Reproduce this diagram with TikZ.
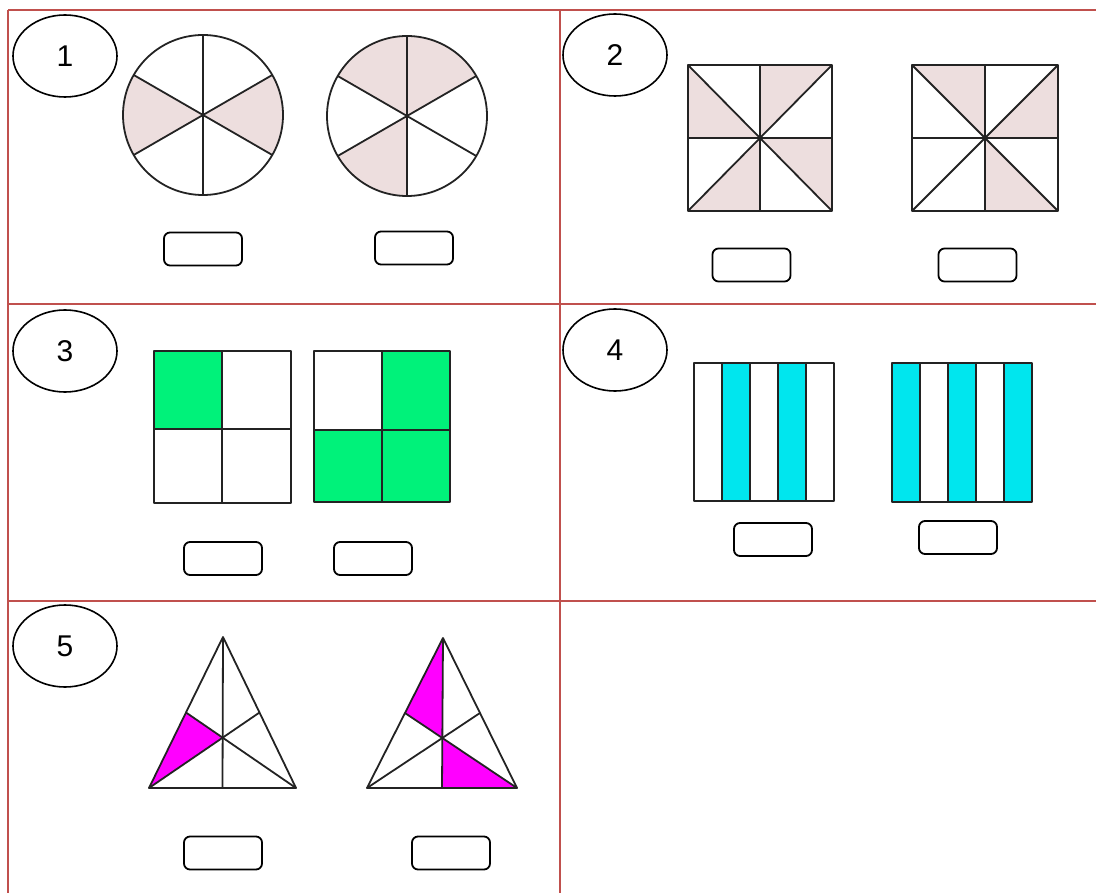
\documentclass[tikz,border=0pt]{standalone}
\usepackage{fontspec}
\setmainfont{Liberation Sans}
\usetikzlibrary{shapes.geometric}
\definecolor{tabred}{RGB}{192,80,77}
\definecolor{pinkshade}{RGB}{237,222,222}
\definecolor{greenfill}{RGB}{0,242,122}
\definecolor{cyanfill}{RGB}{0,230,238}
\definecolor{magfill}{RGB}{255,0,255}
\definecolor{inkline}{RGB}{35,35,35}
\tikzset{
  numoval/.style={draw=black, line width=1.6pt, ellipse, minimum width=104pt, minimum height=82pt, inner sep=0pt, font=\fontsize{30}{30}\selectfont},
  ansbox/.style={draw=black, line width=1.8pt, rounded corners=6pt, minimum width=78pt, minimum height=33pt, inner sep=0pt},
  tabline/.style={draw=tabred, line width=2.5pt},
  fig/.style={draw=inkline, line width=1.8pt, line join=round},
}
\begin{document}
\begin{tikzpicture}[x=1pt,y=-1pt]
\useasboundingbox (0,0) rectangle (1096,893);
% table
\draw[tabline] (8,10) -- (1096,10);
\draw[tabline] (8,304) -- (1096,304);
\draw[tabline] (8,601) -- (1096,601);
\draw[tabline] (8,10) -- (8,893);
\draw[tabline] (560,10) -- (560,893);

% number ovals
\node[numoval] (e1) at (65,56) {1};
\node[numoval] (e2) at (615,55) {2};
\node[numoval] (e3) at (65,351) {3};
\node[numoval] (e4) at (615,350) {4};
\node[numoval] (e5) at (65,646) {5};

% answer boxes
\node[ansbox] (b1a) at (203,249) {};
\node[ansbox] (b1b) at (414,248) {};
\node[ansbox] (b2a) at (751.5,265) {};
\node[ansbox] (b2b) at (977.5,265) {};
\node[ansbox] (b3a) at (223,558.5) {};
\node[ansbox] (b3b) at (373,558.5) {};
\node[ansbox] (b4a) at (773,539.5) {};
\node[ansbox] (b4b) at (958,537.5) {};
\node[ansbox] (b5a) at (223,853) {};
\node[ansbox] (b5b) at (451,853) {};

% cell 1 circles
\coordinate (c1) at (203,115);
\coordinate (c2) at (407,116);
\fill[pinkshade] (c1) -- ++(150:80pt) arc[start angle=150,end angle=210,radius=80pt] -- cycle;
\fill[pinkshade] (c1) -- ++(-30:80pt) arc[start angle=-30,end angle=30,radius=80pt] -- cycle;
\fill[pinkshade] (c2) -- ++(30:80pt) arc[start angle=30,end angle=150,radius=80pt] -- cycle;
\fill[pinkshade] (c2) -- ++(210:80pt) arc[start angle=210,end angle=270,radius=80pt] -- cycle;
\foreach \c in {c1,c2}{
  \draw[fig] (\c) circle[radius=80pt];
  \draw[fig] (\c) ++(90:80pt) -- ++(270:160pt);
  \draw[fig] (\c) ++(30:80pt) -- ++(210:160pt);
  \draw[fig] (\c) ++(150:80pt) -- ++(330:160pt);
}

% cell 2 squares
\fill[pinkshade] (688,65) -- (688,138) -- (760,138) -- cycle;
\fill[pinkshade] (760,65) -- (832,65) -- (760,138) -- cycle;
\fill[pinkshade] (688,211) -- (760,211) -- (760,138) -- cycle;
\fill[pinkshade] (832,138) -- (832,211) -- (760,138) -- cycle;
\draw[fig] (688,65) rectangle (832,211);
\draw[fig] (760,65) -- (760,211);
\draw[fig] (688,138) -- (832,138);
\draw[fig] (688,65) -- (832,211);
\draw[fig] (688,211) -- (832,65);

\fill[pinkshade] (912,65) -- (985,65) -- (985,138) -- cycle;
\fill[pinkshade] (985,138) -- (1058,65) -- (1058,138) -- cycle;
\fill[pinkshade] (985,138) -- (985,211) -- (1058,211) -- cycle;
\draw[fig] (912,65) rectangle (1058,211);
\draw[fig] (985,65) -- (985,211);
\draw[fig] (912,138) -- (1058,138);
\draw[fig] (912,65) -- (1058,211);
\draw[fig] (912,211) -- (1058,65);

% cell 3 squares
\fill[greenfill] (154,351) rectangle (222,429);
\draw[fig] (154,351) rectangle (291,503);
\draw[fig] (222,351) -- (222,503);
\draw[fig] (154,429) -- (291,429);

\fill[greenfill] (382,351) rectangle (450,430);
\fill[greenfill] (314,430) rectangle (450,502);
\draw[fig] (314,351) rectangle (450,502);
\draw[fig] (382,351) -- (382,502);
\draw[fig] (314,430) -- (450,430);

% cell 4 strips
\fill[cyanfill] (722,363) rectangle (750,501);
\fill[cyanfill] (778,363) rectangle (806,501);
\draw[fig] (694,363) rectangle (834,501);
\foreach \x in {722,750,778,806}{\draw[fig] (\x,363) -- (\x,501);}

\fill[cyanfill] (892,363) rectangle (920,502);
\fill[cyanfill] (948,363) rectangle (976,502);
\fill[cyanfill] (1004,363) rectangle (1032,502);
\draw[fig] (892,363) rectangle (1032,502);
\foreach \x in {920,948,976,1004}{\draw[fig] (\x,363) -- (\x,502);}

% cell 5 triangles
\coordinate (t1a) at (223,637);
\coordinate (t1b) at (149,788);
\coordinate (t1c) at (296,788);
\coordinate (t1m) at (222.5,788);
\coordinate (t1l) at (186,712.5);
\coordinate (t1r) at (259.5,712.5);
\coordinate (t1g) at (222.7,737.7);
\fill[magfill] (t1l) -- (t1g) -- (t1b) -- cycle;
\draw[fig] (t1a) -- (t1b) -- (t1c) -- cycle;
\draw[fig] (t1a) -- (t1m);
\draw[fig] (t1b) -- (t1r);
\draw[fig] (t1c) -- (t1l);

\coordinate (t2a) at (443,638);
\coordinate (t2b) at (367,788);
\coordinate (t2c) at (517,788);
\coordinate (t2m) at (442,788);
\coordinate (t2l) at (405,713);
\coordinate (t2r) at (480,713);
\coordinate (t2g) at (442.3,738);
\fill[magfill] (t2a) -- (t2l) -- (t2g) -- cycle;
\fill[magfill] (t2g) -- (t2m) -- (t2c) -- cycle;
\draw[fig] (t2a) -- (t2b) -- (t2c) -- cycle;
\draw[fig] (t2a) -- (t2m);
\draw[fig] (t2b) -- (t2r);
\draw[fig] (t2c) -- (t2l);
\end{tikzpicture}
\end{document}
